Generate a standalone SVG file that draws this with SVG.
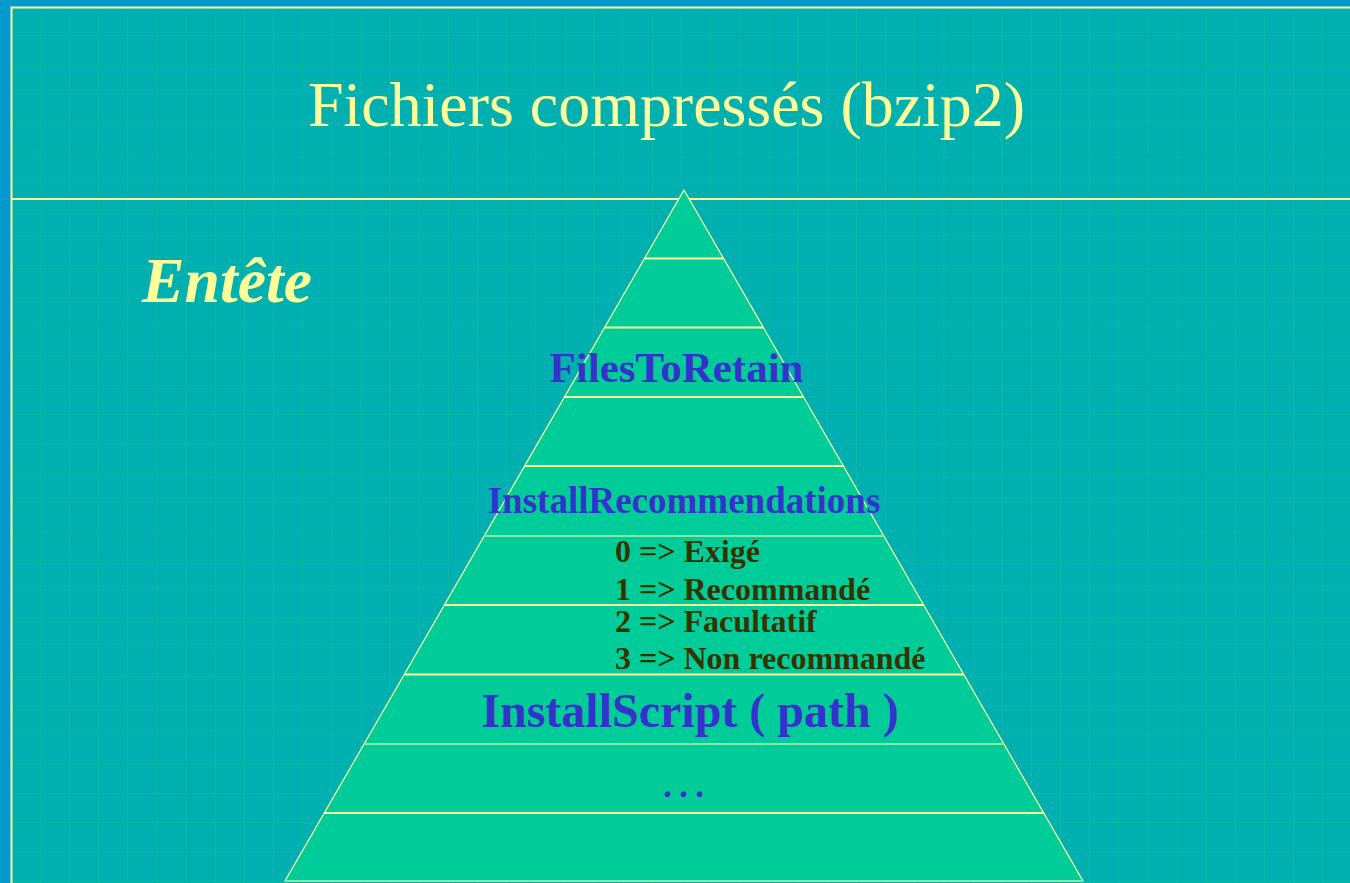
<svg xmlns="http://www.w3.org/2000/svg" width="1350" height="883" viewBox="0 0 1350 883">
  <defs>
    <pattern id="grid" x="11.6" y="6.85" width="29.15" height="29.15" patternUnits="userSpaceOnUse">
      <path d="M29.15 0 V29.15 M0 29.15 H29.15" fill="none" stroke="#12c0a4" stroke-width="1"/>
    </pattern>
    <style>
      .serif { font-family: "Liberation Serif", "Times New Roman", serif; }
      .blue { fill: #3333cc; font-weight: bold; }
      .dark { fill: #333300; font-weight: bold; font-size: 32px; }
      .yel { stroke: #ffff99; stroke-width: 2; }
      .grn { stroke: #88e8a0; stroke-width: 2; }
    </style>
  </defs>
  <rect x="0" y="0" width="1350" height="883" fill="#0399cc"/>
  <rect x="11" y="7" width="1339" height="876" fill="#00afb0"/>
  <rect x="11" y="7" width="1339" height="876" fill="url(#grid)"/>
  <g id="frame" fill="none" stroke="#ffff99" stroke-width="2">
    <path d="M11.5 883 V7.5 H1350"/>
    <path d="M11 199 H1350"/>
  </g>
  <g id="title">
    <text class="serif" x="308" y="126" font-size="63" fill="#ffff99" textLength="717" lengthAdjust="spacingAndGlyphs">Fichiers compressés (bzip2)</text>
  </g>
  <g id="entete">
    <text class="serif" x="142" y="302" font-size="63" font-weight="bold" font-style="italic" fill="#ffff99" textLength="170" lengthAdjust="spacingAndGlyphs">Entête</text>
  </g>
  <g id="pyramid">
    <polygon points="684,190 1083,881 285,881" fill="#00cc99" stroke="#ffff99" stroke-width="1.2"/>
    <line class="yel" x1="644.5" y1="258.5" x2="723.5" y2="258.5"/>
    <line class="yel" x1="604.6" y1="327.5" x2="763.4" y2="327.5"/>
    <line class="yel" x1="564.5" y1="397" x2="803.5" y2="397"/>
    <line class="yel" x1="524.6" y1="466" x2="843.4" y2="466"/>
    <line class="grn" x1="484.2" y1="536" x2="883.8" y2="536"/>
    <line class="yel" x1="444.4" y1="605" x2="923.6" y2="605"/>
    <line class="yel" x1="404.3" y1="674.5" x2="963.7" y2="674.5"/>
    <line class="grn" x1="364.1" y1="744" x2="1003.9" y2="744"/>
    <line class="yel" x1="324.3" y1="813" x2="1043.7" y2="813"/>
    <line class="grn" x1="285" y1="881" x2="1083" y2="881"/>
  </g>
  <g id="files-to-retain">
    <text class="serif blue" x="676.5" y="382" font-size="43" text-anchor="middle">FilesToRetain</text>
  </g>
  <g id="install-recommendations">
    <text class="serif blue" x="684" y="513" font-size="37" text-anchor="middle">InstallRecommendations</text>
    <text class="serif dark" x="615" y="562">0 =&gt; Exigé</text>
    <text class="serif dark" x="615" y="600">1 =&gt; Recommandé</text>
    <text class="serif dark" x="615" y="632">2 =&gt; Facultatif</text>
    <text class="serif dark" x="615" y="668.5">3 =&gt; Non recommandé</text>
  </g>
  <g id="install-script">
    <text class="serif blue" x="690" y="727" font-size="48" text-anchor="middle">InstallScript ( path )</text>
  </g>
  <g id="ellipsis">
    <text class="serif" x="683.5" y="797" font-size="48" fill="#3333cc" text-anchor="middle">…</text>
  </g>
</svg>
